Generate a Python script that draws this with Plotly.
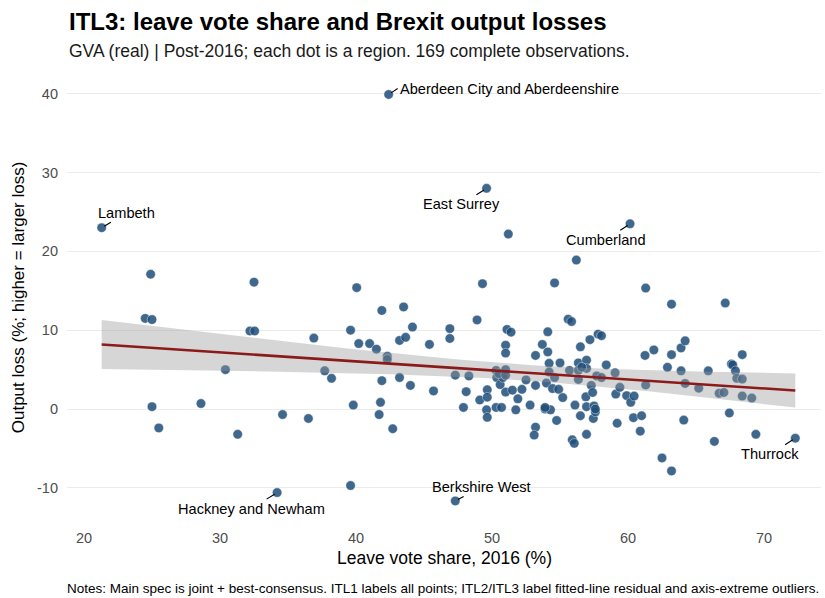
import numpy as np
import plotly.graph_objects as go

# ---------------- data ----------------
leave_share = [
    24.9, 24.5, 25.0, 25.0, 25.5, 28.6, 30.4, 31.3, 32.5, 32.2,
    32.55, 34.6, 36.5, 36.9, 37.7, 38.2, 39.6, 39.8, 39.6, 40.05,
    40.2, 41.0, 41.5, 41.9, 41.9, 41.8, 41.7, 42.3, 42.3, 42.7,
    43.2, 43.65, 43.5, 43.2, 44.0, 44.15, 45.4, 45.7, 46.9, 46.9,
    47.3, 47.9, 48.1, 48.3, 48.9, 49.1, 49.3, 49.65, 49.65, 49.6,
    49.65, 50.3, 50.35, 50.6, 50.3, 50.7, 50.8, 51.0, 51.0, 51.0,
    51.0, 51.1, 51.4, 51.2, 51.5, 51.75, 51.9, 52.2, 52.5, 52.8,
    53.2, 53.7, 53.2, 53.2, 53.1, 53.9, 54.0, 54.1, 54.1, 54.2,
    54.2, 54.3, 54.45, 54.6, 54.6, 54.75, 54.9, 55.0, 55.2, 55.6,
    55.85, 55.7, 55.9, 56.05, 56.1, 56.2, 56.35, 56.35, 56.35, 56.5,
    56.5, 56.9, 56.95, 56.95, 56.95, 56.95, 57.2, 57.3, 57.4, 57.45,
    57.5, 57.6, 57.7, 57.8, 58.05, 58.05, 58.4, 59.05, 59.1, 59.2,
    59.4, 59.9, 60.2, 60.45, 60.4, 60.9, 61.0, 61.25, 61.3, 61.3,
    61.9, 62.5, 62.9, 63.2, 63.2, 63.2, 63.9, 63.9, 64.2, 64.2,
    64.1, 65.2, 65.9, 66.35, 66.7, 67.05, 67.15, 67.45, 67.6, 67.7,
    67.9, 68.0, 68.4, 68.4, 68.4, 69.1, 69.4,
    50.5, 56.6, 53.9, 57.6, 51.0,
]
output_loss = [
    17.1, 11.5, 11.35, 0.3, -2.4, 0.7, 5.0, -3.2, 16.1, 9.9,
    9.9, -0.7, -1.2, 9.0, 4.85, 3.9, 10.0, 0.5, -9.7, 15.4,
    8.3, 8.3, 7.6, 12.5, 3.6, 0.85, -0.7, 6.7, 6.3, -2.5,
    8.7, 9.1, 12.95, 4.0, 3.0, 10.4, 8.2, 2.3, 10.2, 8.95,
    4.3, 0.2, 2.2, 4.2, 11.3, 1.15, 15.9, 2.45, 1.5, -0.1,
    -1.05, 4.9, 4.0, 3.1, 0.2, 0.2, 4.0, 5.0, 8.1, 7.1,
    2.15, 10.1, 9.75, 22.2, 2.4, -0.1, 1.3, 2.5, 3.7, 0.5,
    6.8, 8.2, 3.0, -2.3, -3.3, 0.0, 3.3, 9.8, 7.25, 5.8,
    4.7, -0.1, 2.6, 16.0, 4.0, -1.45, 2.5, 5.85, 1.45, 11.4,
    11.1, 4.9, -3.9, -4.35, 0.5, 18.9, 5.85, 4.9, 3.75, 7.9,
    -0.85, 1.55, 6.2, 5.15, 0.3, -3.2, 8.8, 3.0, 2.1, -1.2,
    0.4, -0.35, 4.2, 9.5, 9.3, 4.0, 5.6, 4.6, 1.9, -1.8,
    2.75, 1.7, 0.85, 1.65, -1.1, -2.8, -0.85, 6.8, 15.35, 3.05,
    7.5, -6.2, 5.3, 13.3, 6.9, -7.85, 7.75, 4.85, 8.65, 3.25,
    -1.4, 2.65, 4.85, -4.1, 2.0, 2.1, 13.45, -0.5, 5.7, 5.6,
    4.85, 3.9, 3.8, 6.9, 1.65, 1.4, -3.2,
    4.5, 5.3, 0.2, 0.0, 4.3,
]

labelled_names = ["Aberdeen City and Aberdeenshire", "East Surrey", "Lambeth",
                  "Cumberland", "Thurrock", "Hackney and Newham", "Berkshire West"]
labelled_leave = [42.4, 49.6, 21.3, 60.15, 72.3, 34.2, 47.3]
labelled_loss = [39.9, 28.0, 23.0, 23.5, -3.7, -10.6, -11.65]

x_ticks = [20, 30, 40, 50, 60, 70]
x_ticktext = ["20", "30", "40", "50", "60", "70"]
y_ticks = [-10, 0, 10, 20, 30, 40]
y_ticktext = ["-10", "0", "10", "20", "30", "40"]

# ---------------- fit ----------------
x_all = np.array(leave_share + labelled_leave, dtype=float)
y_all = np.array(output_loss + labelled_loss, dtype=float)
n = len(x_all)
slope, intercept = np.polyfit(x_all, y_all, 1)
resid = y_all - (intercept + slope * x_all)
s = np.sqrt(np.sum(resid ** 2) / (n - 2))
xbar = x_all.mean()
sxx = np.sum((x_all - xbar) ** 2)
xs = np.linspace(x_all.min(), x_all.max(), 80)
ys = intercept + slope * xs
se = s * np.sqrt(1.0 / n + (xs - xbar) ** 2 / sxx)
tcrit = 1.974
lo, hi = ys - tcrit * se, ys + tcrit * se

FONT = "Liberation Sans, Arial, sans-serif"
fig = go.Figure()

fig.add_trace(go.Scatter(
    x=x_all, y=y_all, mode="markers",
    marker=dict(size=9.5, color="rgba(31,78,121,0.85)",
                line=dict(width=0.6, color="rgba(255,255,255,0.7)")),
    hoverinfo="skip", showlegend=False))

fig.add_trace(go.Scatter(
    x=np.concatenate([xs, xs[::-1]]), y=np.concatenate([hi, lo[::-1]]),
    fill="toself", fillcolor="rgba(153,153,153,0.4)", line=dict(width=0),
    mode="lines", hoverinfo="skip", showlegend=False))

fig.add_trace(go.Scatter(
    x=xs, y=ys, mode="lines", line=dict(color="#8b1a1a", width=2.6),
    hoverinfo="skip", showlegend=False))

offsets = {
    "Aberdeen City and Aberdeenshire": (9, -6, "left"),
    "East Surrey": (-25, 16, "center"),
    "Lambeth": (25, -15, "center"),
    "Cumberland": (-24, 16, "center"),
    "Thurrock": (-25, 16, "center"),
    "Hackney and Newham": (-26, 16, "center"),
    "Berkshire West": (26, -14, "center"),
}
for name, lx, ly in zip(labelled_names, labelled_leave, labelled_loss):
    ax, ay, xa = offsets[name]
    fig.add_annotation(x=lx, y=ly, text=name, showarrow=True, arrowhead=0,
                       arrowwidth=1.1, arrowcolor="black", ax=ax, ay=ay,
                       xanchor=xa, standoff=3,
                       font=dict(family=FONT, size=14.6, color="black"))

# titles & texts
fig.add_annotation(xref="paper", yref="paper", x=0, y=1.117, xanchor="left", yanchor="middle",
                   text="<b>ITL3: leave vote share and Brexit output losses</b>", showarrow=False,
                   font=dict(family=FONT, size=24, color="black"))
fig.add_annotation(xref="paper", yref="paper", x=0, y=1.052, xanchor="left", yanchor="middle",
                   text="GVA (real) | Post-2016; each dot is a region. 169 complete observations.",
                   showarrow=False, font=dict(family=FONT, size=17.5, color="#1a1a1a"))
fig.add_annotation(xref="paper", yref="paper", x=1, y=-0.150, xanchor="right", yanchor="middle",
                   text="Notes: Main spec is joint + best-consensus. ITL1 labels all points; ITL2/ITL3 label fitted-line residual and axis-extreme outliers.",
                   showarrow=False, font=dict(family=FONT, size=13.5, color="black"))
fig.add_annotation(xref="paper", yref="paper", x=0.5, y=-0.083, xanchor="center", yanchor="middle",
                   text="Leave vote share, 2016 (%)", showarrow=False,
                   font=dict(family=FONT, size=17.5, color="black"))
fig.add_annotation(xref="paper", yref="paper", x=-0.064, y=0.5, xanchor="center", yanchor="middle",
                   text="Output loss (%; higher = larger loss)", textangle=-90, showarrow=False,
                   font=dict(family=FONT, size=17, color="black"))

fig.update_layout(
    width=825, height=598,
    margin=dict(l=67, r=4, t=74, b=77),
    paper_bgcolor="white", plot_bgcolor="white",
    font=dict(family=FONT),
    xaxis=dict(range=[18.75, 74.19], tickvals=x_ticks, ticktext=x_ticktext,
               showgrid=False, zeroline=False, showline=False, ticks="",
               ticklabelstandoff=6, tickfont=dict(size=14.5, color="#4d4d4d")),
    yaxis=dict(range=[-14.2, 42.5], tickvals=y_ticks, ticktext=y_ticktext,
               showgrid=True, gridcolor="#ebebeb", gridwidth=1.2, zeroline=False,
               showline=False, ticks="", ticklabelstandoff=8,
               tickfont=dict(size=14.5, color="#4d4d4d")),
)

fig.write_html("out.html")
